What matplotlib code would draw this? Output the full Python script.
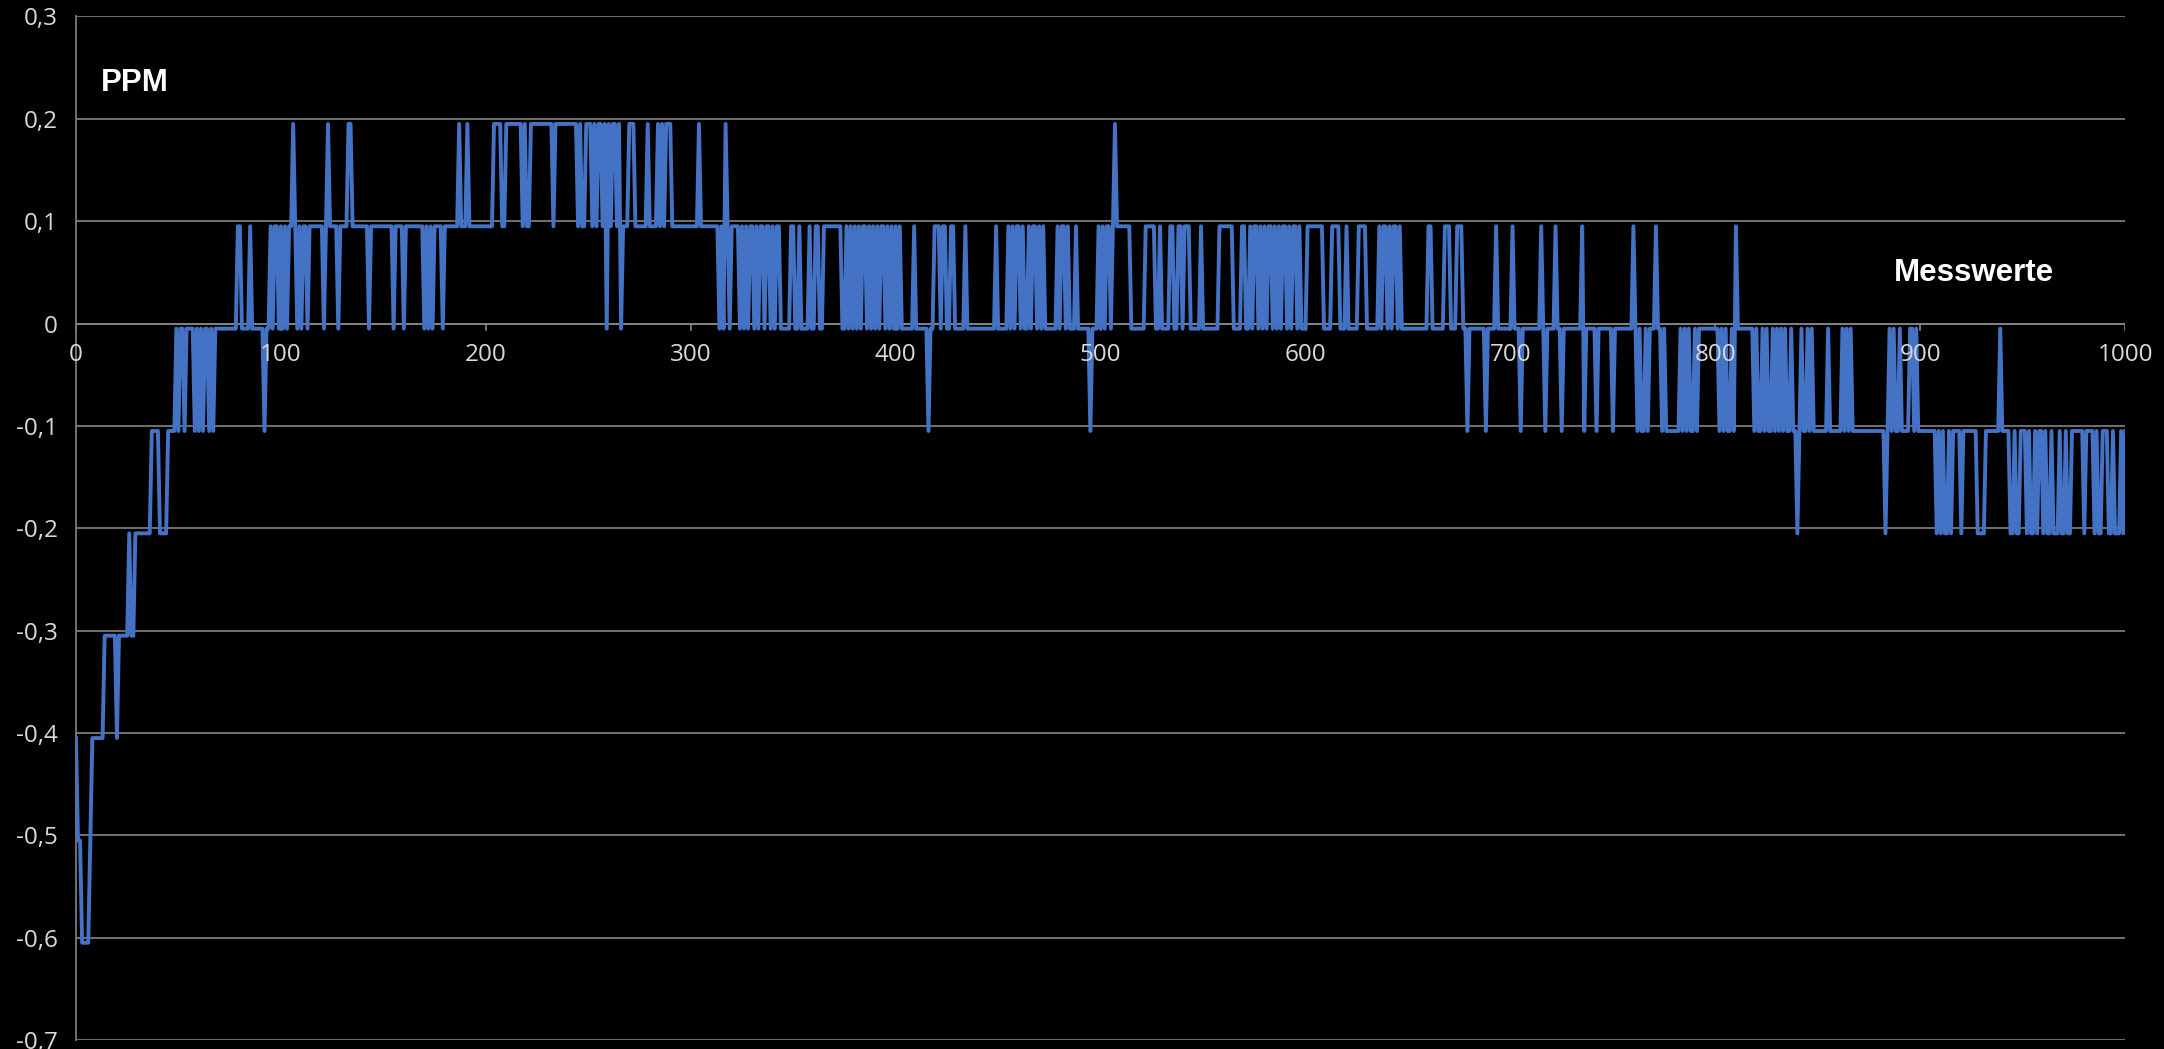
#!/usr/bin/env python3
"""
PPM drift over 1000 measurements, dark Excel-style line chart.
"""

import numpy as np
import matplotlib
matplotlib.use("Agg")
import matplotlib.pyplot as plt
from matplotlib.ticker import FuncFormatter

# Quantised readings, one character per sample (10 per group, 100 per row).
# 2/1/0 = +0.2/+0.1/0 steps, a..f = -0.1 .. -0.6 steps
samples = [
    "deeffffedd ddddcccccc dcccccbccb bbbbbbbaaa abbbbaaaa0 a00a0000a0 a0a00a0a00 0000000001 1000010000 00a0010110",
    "1010112101 0110111111 1012111101 1112211111 1110111111 1111101111 0111111111 0101011110 1111111211 1211111111",
    "1111222211 2222222212 1122222222 2221222222 2222212112 2212122120 2122120111 2221111112 1111212122 2111111111",
    "1111211111 1111010210 1111010101 1010110110 1011000001 1001000010 0110011111 1111001010 1010110101 0101101010",
    "1010000001 000000a001 1101100110 0000100000 0000000001 0000010101 1010010110 1010000001 0110100010 00000a0001",
    "0101101211 1111100000 0011111001 0000110011 0111000001 0000000011 1111100001 1001011010 1011010101 1010110100",
    "0111111110 0001111000 1000001111 0000001011 0101101000 0000000000 1100000011 100011100a 00000000a0 0001000000",
    "01000a0000 0000010a00 00100a0000 000001a000 00a0000000 a000000000 10a0aa0a00 0100a0aaaa aaa0a0a0aa 0a00000000",
    "00a0a0aa0a 100000000a 0aa0a0aa0a 0a0a0aa0aa ba0aa0a0aa aaaaa0aaaa aa0a0a0aaa aaaaaaaaaa aaaba0a0aa 0aaaa00a0a",
    "aaaaaaaaba babbabaaaa baaaaaaabb bbaaaaaaa0 aaaabbabba aababbabaa babbabbbab babbaaaaaa baaaababba aabbabbbab",
    "a",
]
step_levels = {"2": 2, "1": 1, "0": 0, "a": -1, "b": -2, "c": -3, "d": -4, "e": -5, "f": -6}
step_size = 0.1
zero_offset = -0.005

y_ticks = [0.3, 0.2, 0.1, 0.0, -0.1, -0.2, -0.3, -0.4, -0.5, -0.6, -0.7]
x_ticks = [0, 100, 200, 300, 400, 500, 600, 700, 800, 900, 1000]

chars = [c for row in samples for c in row.replace(" ", "")]
ppm = np.array([step_levels[c] * step_size + zero_offset for c in chars])
messung = np.arange(len(ppm))

fig = plt.figure(figsize=(21.64, 10.49), dpi=100, facecolor="black")
ax = fig.add_axes([0.0351, 0.0086, 0.9470, 0.9757], facecolor="black")

ax.set_xlim(0, 1000)
ax.set_ylim(-0.7, 0.3)

# horizontal gridlines
for y in y_ticks:
    ax.axhline(y, color="#858585", lw=1.2, zorder=1)

ax.plot(messung, ppm, color="#4472c4", lw=2.8, zorder=3)

for side in ["top", "right", "bottom"]:
    ax.spines[side].set_visible(False)
ax.spines["left"].set_color("#858585")
ax.spines["left"].set_linewidth(1.2)


def komma(v, pos):
    if abs(v) < 1e-9:
        return "0"
    return f"{v:.1f}".replace(".", ",")


ax.set_yticks(y_ticks)
ax.yaxis.set_major_formatter(FuncFormatter(komma))
ax.tick_params(axis="y", length=0, pad=13, labelsize=17.5, labelcolor="#d9d9d9")
for lbl in ax.get_yticklabels():
    lbl.set_family("Open Sans")

# x axis crosses at y = 0
ax.set_xticks([])
ax.plot([0, 1000], [0, 0], color="#858585", lw=1.2, zorder=2)
for x in x_ticks:
    ax.plot([x, x], [0, -0.006], color="#858585", lw=1.2, zorder=2)
    ax.text(x, -0.019, str(x), ha="center", va="top", color="#d9d9d9",
            fontsize=17.5, family="Open Sans")

ax.text(12, 0.235, "PPM", color="white", fontsize=22.5, fontweight="bold",
        family="Liberation Sans", va="center", ha="left")
ax.text(887, 0.049, "Messwerte", color="white", fontsize=22.5, fontweight="bold",
        family="Liberation Sans", va="center", ha="left")

fig.savefig("out.png", dpi=100, facecolor="black")
